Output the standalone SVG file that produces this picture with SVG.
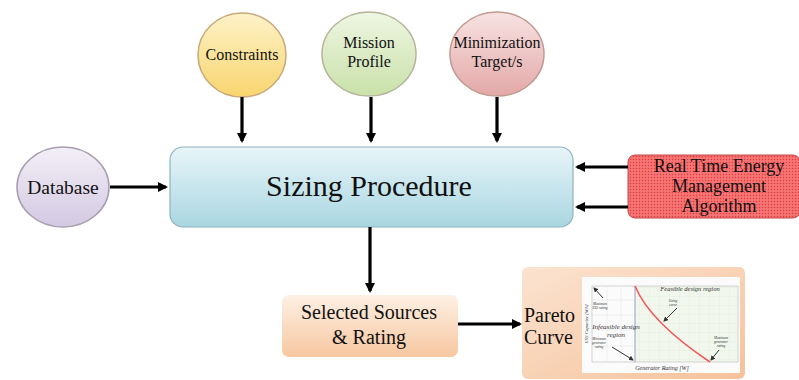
<svg xmlns="http://www.w3.org/2000/svg" width="799" height="380" viewBox="0 0 799 380">
<defs>
<style>
.t{font-family:"Liberation Serif","DejaVu Serif",serif;fill:#111;text-anchor:middle}
.c{stroke:#000;stroke-width:3.2;fill:none}
.s{font-family:"Liberation Serif","DejaVu Serif",serif;font-style:italic;fill:#333;text-anchor:middle}
.ln{stroke:#333;stroke-width:1;fill:none}
</style>
<marker id="ah" markerWidth="10" markerHeight="10" refX="8" refY="5" orient="auto" markerUnits="userSpaceOnUse"><path d="M0,0 L10,5 L0,10 Z" fill="#000"/></marker>
<marker id="sa" markerWidth="5" markerHeight="5" refX="4" refY="2.5" orient="auto" markerUnits="userSpaceOnUse"><path d="M0,0 L5,2.5 L0,5 Z" fill="#333"/></marker>
<linearGradient id="gy" x1="0" y1="0" x2="0" y2="1"><stop offset="0" stop-color="#fdf2c8"/><stop offset="1" stop-color="#f8d56f"/></linearGradient>
<linearGradient id="gg" x1="0" y1="0" x2="0" y2="1"><stop offset="0" stop-color="#eef6e2"/><stop offset="1" stop-color="#c9e1a9"/></linearGradient>
<linearGradient id="gp" x1="0" y1="0" x2="0" y2="1"><stop offset="0" stop-color="#f8e2e2"/><stop offset="1" stop-color="#e3a8a8"/></linearGradient>
<linearGradient id="gl" x1="0" y1="0" x2="0" y2="1"><stop offset="0" stop-color="#f3eff7"/><stop offset="1" stop-color="#d3c9e2"/></linearGradient>
<linearGradient id="gb" x1="0" y1="0" x2="0" y2="1"><stop offset="0" stop-color="#e8f5f9"/><stop offset="1" stop-color="#a9d6e1"/></linearGradient>
<linearGradient id="go" x1="0" y1="0" x2="0" y2="1"><stop offset="0" stop-color="#fdf0e4"/><stop offset="1" stop-color="#f7c7a0"/></linearGradient>
<linearGradient id="go2" x1="0" y1="0" x2="1" y2="1"><stop offset="0" stop-color="#fbe3d0"/><stop offset="1" stop-color="#f6c29b"/></linearGradient>
<pattern id="hatch" width="3" height="3" patternUnits="userSpaceOnUse"><rect width="3" height="3" fill="#f56a6a"/><rect width="1" height="1" fill="#d84040"/><rect x="1.5" y="1.5" width="1" height="1" fill="#fb9a9a"/></pattern>
<pattern id="grid" width="10" height="9" patternUnits="userSpaceOnUse"><rect width="10" height="9" fill="#f1f7ec"/><path d="M10,0 V9 M0,9 H10" stroke="#dbe8d2" stroke-width="0.5"/></pattern>
</defs>

<g id="constraints">
<ellipse cx="242" cy="55" rx="44" ry="42" fill="url(#gy)" stroke="#c9a87a" stroke-width="1.5"/>
<text class="t" x="242" y="60" font-size="16">Constraints</text>
</g>
<g id="mission-profile">
<ellipse cx="369" cy="54" rx="47" ry="42" fill="url(#gg)" stroke="#b4b49a" stroke-width="1.5"/>
<text class="t" x="369" y="48" font-size="16">Mission</text>
<text class="t" x="369" y="67" font-size="16">Profile</text>
</g>
<g id="minimization-target">
<ellipse cx="497" cy="54" rx="47" ry="42" fill="url(#gp)" stroke="#bf9a90" stroke-width="1.5"/>
<text class="t" x="497" y="48" font-size="16">Minimization</text>
<text class="t" x="497" y="67" font-size="16">Target/s</text>
</g>
<g id="database">
<ellipse cx="63" cy="187" rx="46" ry="40" fill="url(#gl)" stroke="#a89cb0" stroke-width="1.5"/>
<text class="t" x="63" y="194" font-size="19.5">Database</text>
</g>
<g id="sizing-procedure">
<rect x="170" y="147" width="403" height="80" rx="13" fill="url(#gb)" stroke="#8fb3bf" stroke-width="1.2"/>
<text class="t" x="369" y="196" font-size="30">Sizing Procedure</text>
</g>
<g id="rtem">
<rect x="628" y="155" width="172" height="63" rx="7" fill="url(#hatch)" stroke="#c04848" stroke-width="1"/>
<text class="t" x="719" y="172" font-size="18">Real Time Energy</text>
<text class="t" x="719" y="192" font-size="18">Management</text>
<text class="t" x="719" y="212" font-size="18">Algorithm</text>
</g>
<g id="selected-sources">
<rect x="282" y="295" width="176" height="62" rx="7" fill="url(#go)"/>
<text class="t" x="369" y="319" font-size="20">Selected Sources</text>
<text class="t" x="369" y="344" font-size="20">&amp; Rating</text>
</g>
<g id="pareto-curve">
<rect x="522" y="267" width="223" height="112" rx="6" fill="url(#go2)"/>
<text x="524" y="322" font-family="Liberation Serif,DejaVu Serif,serif" font-size="20" fill="#111">Pareto</text>
<text x="524" y="344" font-family="Liberation Serif,DejaVu Serif,serif" font-size="20" fill="#111">Curve</text>
<rect x="582" y="277" width="158" height="96" fill="#fbfbfb"/>
<rect x="635" y="286" width="103" height="76" fill="url(#grid)"/>
<path d="M592,286 H738 V362 H592 Z" fill="none" stroke="#bbb" stroke-width="0.6"/>
<path d="M607,286 V362 M621,286 V362 M592,300 H635 M592,315 H635 M592,330 H635 M592,346 H635" stroke="#e2e2e2" stroke-width="0.5"/>
<line x1="635" y1="286" x2="635" y2="362" stroke="#8fa0c8" stroke-width="1"/>
<path d="M635,286 Q650,322 710,362" fill="none" stroke="#f25a5a" stroke-width="1.6"/>
<text class="s" x="690" y="291" font-size="6.5">Feasible design region</text>
<text class="s" x="616" y="329" font-size="7">Infeasible design</text>
<text class="s" x="616" y="337" font-size="7">region</text>
<text class="s" x="662" y="370" font-size="6">Generator Rating [W]</text>
<text class="s" x="0" y="0" font-size="5" transform="translate(588,324) rotate(-90)">ESS Capacity [Wh]</text>
<text class="s" x="600" y="305" font-size="3.5">Maximum</text>
<text class="s" x="600" y="309" font-size="3.5">ESS rating</text>
<text class="s" x="599" y="340" font-size="3.5">Minimum</text>
<text class="s" x="599" y="344" font-size="3.5">generator</text>
<text class="s" x="599" y="348" font-size="3.5">rating</text>
<text class="s" x="673" y="302" font-size="3.5">Sizing</text>
<text class="s" x="673" y="306" font-size="3.5">curve</text>
<text class="s" x="721" y="339" font-size="3.5">Maximum</text>
<text class="s" x="721" y="343" font-size="3.5">generator</text>
<text class="s" x="721" y="347" font-size="3.5">rating</text>
<line class="ln" x1="603" y1="298" x2="594" y2="288" marker-end="url(#sa)"/>
<line class="ln" x1="612" y1="347" x2="633" y2="360" marker-end="url(#sa)"/>
<line class="ln" x1="677" y1="308" x2="664" y2="321" marker-end="url(#sa)"/>
<line class="ln" x1="719" y1="350" x2="711" y2="360" marker-end="url(#sa)"/>
</g>

<g id="connectors">
<line class="c" x1="242" y1="97" x2="242" y2="141" marker-end="url(#ah)"/>
<line class="c" x1="371" y1="97" x2="371" y2="141" marker-end="url(#ah)"/>
<line class="c" x1="497" y1="97" x2="497" y2="141" marker-end="url(#ah)"/>
<line class="c" x1="110" y1="187" x2="166" y2="187" marker-end="url(#ah)"/>
<line class="c" x1="628" y1="167" x2="577" y2="167" marker-end="url(#ah)"/>
<line class="c" x1="628" y1="207" x2="577" y2="207" marker-end="url(#ah)"/>
<line class="c" x1="370" y1="227" x2="370" y2="291" marker-end="url(#ah)"/>
<line class="c" x1="458" y1="324" x2="520" y2="324" marker-end="url(#ah)"/>
</g>
</svg>
